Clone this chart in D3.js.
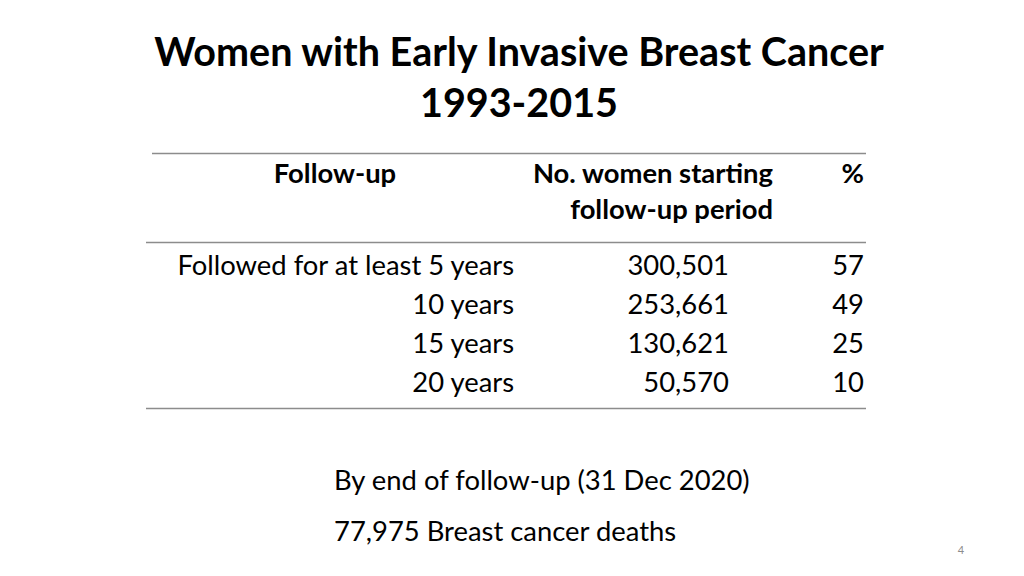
<!DOCTYPE html>
<html>
<head>
<meta charset="utf-8">
<script src="https://cdn.jsdelivr.net/npm/d3@7"></script>
<style>
  html, body { margin: 0; padding: 0; background: #fff; }
  svg { display: block; }
  text { font-family: Lato, "Open Sans", sans-serif; fill: #000; }
</style>
</head>
<body>
<svg id="chart" width="1024" height="576"></svg>
<script>
const titleLines = ["Women with Early Invasive Breast Cancer", "1993-2015"];
const headers = [["Follow-up"], ["No. women starting", "follow-up period"], ["%"]];
const followUp = ["Followed for at least 5 years", "10 years", "15 years", "20 years"];
const women = [300501, 253661, 130621, 50570];
const percent = [57, 49, 25, 10];
const footnotes = ["By end of follow-up (31 Dec 2020)", "77,975 Breast cancer deaths"];
const pageNumber = "4";

const svg = d3.select("#chart");
const fmt = d3.format(",");
const bodySize = 27.4;

// Title
svg.selectAll("text.title").data(titleLines).join("text")
  .attr("class", "title")
  .attr("x", 519)
  .attr("y", (d, i) => 66 + i * 51)
  .attr("text-anchor", "middle")
  .attr("font-size", 39.5)
  .attr("font-weight", "bold")
  .text(d => d);

// Rules
const rules = [{y: 153.5, x1: 152}, {y: 242.5, x1: 146}, {y: 408.5, x1: 146}];
svg.selectAll("line.rule").data(rules).join("line")
  .attr("x1", d => d.x1).attr("x2", 866)
  .attr("y1", d => d.y).attr("y2", d => d.y)
  .attr("stroke", "#8c8c8c").attr("stroke-width", 1.5);

// Header
const headerX = [335, 773, 864];
const headerAnchor = ["middle", "end", "end"];
headers.forEach((lines, c) => {
  svg.selectAll("text.h" + c).data(lines).join("text")
    .attr("class", "h" + c)
    .attr("x", headerX[c])
    .attr("y", (d, i) => 183 + i * 36)
    .attr("text-anchor", headerAnchor[c])
    .attr("font-size", bodySize)
    .attr("font-weight", "bold")
    .text(d => d);
});

// Rows
const y = d3.scaleBand().domain(d3.range(followUp.length)).range([256, 412]);
const cols = [
  {x: 514, vals: followUp},
  {x: 729, vals: women.map(fmt)},
  {x: 864, vals: percent.map(String)}
];
cols.forEach((col, c) => {
  svg.selectAll("text.c" + c).data(col.vals).join("text")
    .attr("class", "c" + c)
    .attr("x", col.x)
    .attr("y", (d, i) => y(i) + 19)
    .attr("text-anchor", "end")
    .attr("font-size", bodySize)
    .text(d => d);
});

// Footnotes
svg.selectAll("text.foot").data(footnotes).join("text")
  .attr("class", "foot")
  .attr("x", 334)
  .attr("y", (d, i) => 490 + i * 51)
  .attr("font-size", bodySize)
  .text(d => d);

svg.append("text")
  .attr("x", 961).attr("y", 554)
  .attr("text-anchor", "middle")
  .attr("font-size", 11)
  .style("fill", "#8c8c8c")
  .text(pageNumber);
</script>
</body>
</html>
